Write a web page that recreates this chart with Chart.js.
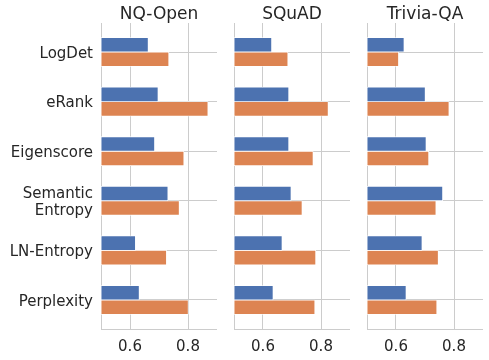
<!DOCTYPE html>
<html>
<head>
<meta charset="utf-8">
<script src="https://cdn.jsdelivr.net/npm/chart.js@4"></script>
<style>
  body { margin: 0; background: #fff; }
  .panel { position: absolute; top: 0; height: 360px; }
</style>
</head>
<body>
<div class="panel" style="left:0;width:217px"><canvas id="c0"></canvas></div>
<div class="panel" style="left:229px;width:121px"><canvas id="c1"></canvas></div>
<div class="panel" style="left:362px;width:121px"><canvas id="c2"></canvas></div>
<script>
// data
const methods = ['LogDet', 'eRank', 'Eigenscore', ['Semantic', 'Entropy'], 'LN-Entropy', 'Perplexity'];
const xTicks = [0.6, 0.8];

const nqBlue   = [0.663, 0.697, 0.685, 0.731, 0.619, 0.632];
const nqOrange = [0.734, 0.869, 0.786, 0.770, 0.726, 0.801];
const sqBlue   = [0.630, 0.689, 0.689, 0.697, 0.666, 0.635];
const sqOrange = [0.686, 0.825, 0.773, 0.735, 0.782, 0.779];
const tqBlue   = [0.628, 0.701, 0.704, 0.761, 0.690, 0.635];
const tqOrange = [0.609, 0.783, 0.713, 0.738, 0.746, 0.741];

const BLUE = '#4c72b0', ORANGE = '#dd8452';
const GRID = '#cccccc', TEXT = '#262626';
const FONT = "'DejaVu Sans', sans-serif";

const toPoints = vals => vals.map((v, i) => ({ x: v, y: i }));

function panel(id, title, blue, orange, axisWidth, showLabels) {
  return new Chart(document.getElementById(id), {
    type: 'bar',
    data: {
      datasets: [
        { data: toPoints(blue), backgroundColor: BLUE },
        { data: toPoints(orange), backgroundColor: ORANGE },
      ]
    },
    options: {
      indexAxis: 'y',
      responsive: true,
      maintainAspectRatio: false,
      animation: false,
      layout: { padding: 0 },
      datasets: {
        bar: { barThickness: 14.5, borderColor: '#ffffff', borderWidth: 0.8, borderSkipped: false, base: 0.5 }
      },
      plugins: {
        legend: { display: false },
        tooltip: { enabled: false },
        title: {
          display: true, text: title, fullSize: false, color: TEXT,
          font: { family: FONT, size: 17, weight: 'normal', lineHeight: 1 },
          padding: { top: 6, bottom: 0 }
        }
      },
      scales: {
        x: {
          type: 'linear', min: 0.5, max: 0.9, position: 'bottom',
          afterBuildTicks: s => { s.ticks = xTicks.map(v => ({ value: v })); },
          afterFit: s => { s.height = 31; },
          grid: { color: GRID, lineWidth: 1, drawTicks: false },
          border: { display: true, color: GRID, width: 1 },
          ticks: { padding: 9, color: TEXT, font: { family: FONT, size: 15 }, callback: v => v.toFixed(1) }
        },
        y: {
          type: 'linear', reverse: true, min: -0.585, max: 5.585, offset: false,
          afterBuildTicks: s => { s.ticks = methods.map((m, i) => ({ value: i })); },
          afterFit: s => { s.width = axisWidth; },
          grid: { color: GRID, lineWidth: 1, drawTicks: false, offset: false },
          border: { display: true, color: GRID, width: 1 },
          ticks: {
            display: showLabels, padding: 8, labelOffset: 2, color: TEXT,
            font: { family: FONT, size: 15, lineHeight: 1.17 },
            callback: v => methods[v]
          }
        }
      }
    }
  });
}

panel('c0', 'NQ-Open', nqBlue, nqOrange, 101, true);
panel('c1', 'SQuAD', sqBlue, sqOrange, 5, false);
panel('c2', 'Trivia-QA', tqBlue, tqOrange, 5, false);
</script>
</body>
</html>
